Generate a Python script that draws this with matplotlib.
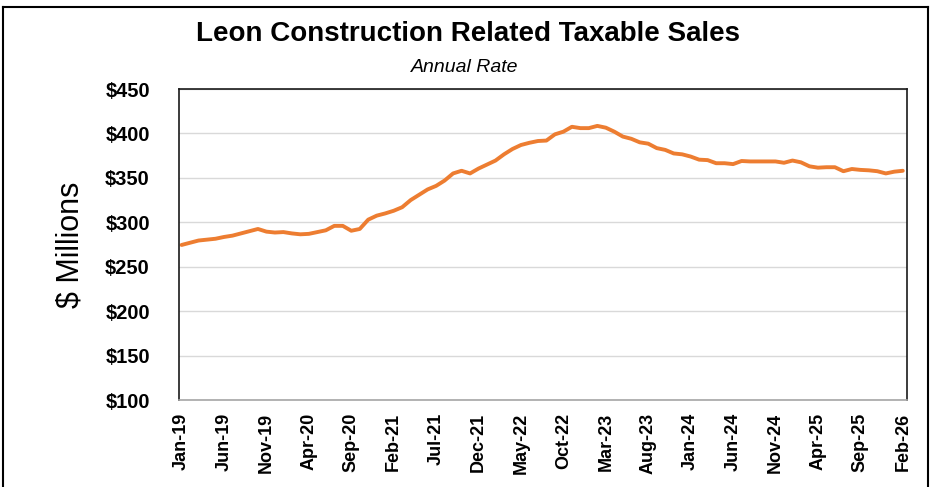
import matplotlib

matplotlib.use("Agg")
import matplotlib.pyplot as plt
import pandas as pd
from matplotlib.lines import Line2D

# Monthly annual-rate taxable sales, $ millions, Jan-2019 .. Feb-2026
months = pd.date_range("2019-01-01", "2026-02-01", freq="MS")
sales_musd = [
    274.5, 277.0, 279.5, 280.5, 281.5, 283.5, 285.0, 287.5, 290.0, 292.5,
    289.5, 288.5, 289.0, 287.5, 286.5, 287.0, 289.0, 291.0, 296.0, 296.0,
    290.5, 292.5, 303.0, 307.5, 310.0, 313.0, 317.0, 325.0, 331.0, 337.0,
    341.0, 347.0, 355.0, 358.0, 355.0, 360.5, 365.0, 369.5, 376.5, 382.5,
    387.0, 389.5, 391.5, 392.0, 399.0, 402.0, 407.5, 406.0, 406.0, 408.5,
    406.5, 402.0, 396.5, 394.0, 390.0, 388.5, 383.5, 381.5, 377.5, 376.5,
    374.0, 370.5, 370.0, 366.5, 366.5, 365.5, 369.0, 368.5, 368.5, 368.5,
    368.5, 367.0, 369.5, 367.5, 363.0, 361.5, 362.0, 362.0, 357.5, 360.0,
    359.0, 358.5, 357.5, 355.0, 357.0, 358.0,
]
tick_step = 5
y_ticks = [100, 150, 200, 250, 300, 350, 400, 450]

title = "Leon Construction Related Taxable Sales"
subtitle = "Annual Rate"
y_label = "$ Millions"

LINE_COLOR = "#ED7D31"
GRID_COLOR = "#D9D9D9"


def main() -> None:
    plt.rcParams["font.family"] = ["Liberation Sans", "DejaVu Sans"]

    fig = plt.figure(figsize=(9.3, 4.87), dpi=100)
    ax = fig.add_axes([0.1925, 0.1786, 0.7828, 0.6386])

    x = range(len(sales_musd))
    ax.plot(x, sales_musd, color=LINE_COLOR, linewidth=2.8, solid_capstyle="round")

    ax.set_xlim(-0.3, len(sales_musd) - 0.5)
    ax.set_ylim(y_ticks[0], y_ticks[-1])
    ax.set_yticks(y_ticks)
    ax.set_yticklabels([f"${v}" for v in y_ticks], fontsize=14.5, fontweight="bold")

    tick_pos = list(range(0, len(months), tick_step))
    ax.set_xticks(tick_pos)
    ax.set_xticklabels(
        [months[i].strftime("%b-%y") for i in tick_pos],
        rotation=90, fontsize=13, fontweight="bold",
    )
    ax.tick_params(axis="y", length=0, pad=21)
    ax.tick_params(axis="x", length=0, pad=9)

    ax.grid(axis="y", color=GRID_COLOR, linewidth=1.0)
    ax.set_axisbelow(True)
    for side in ("left", "top", "right"):
        ax.spines[side].set_color("#1a1a1a")
        ax.spines[side].set_linewidth(1.2)
    ax.spines["bottom"].set_color("#A6A6A6")
    ax.spines["bottom"].set_linewidth(1.2)

    ax.set_ylabel(y_label, fontsize=22, labelpad=14)

    fig.text(0.503, 0.930, title, ha="center", va="center",
             fontsize=20, fontweight="bold")
    fig.text(0.500, 0.862, subtitle, ha="center", va="center",
             fontsize=14, style="italic")

    # outer chart frame
    w, h = 930, 487
    frame = dict(color="black", linewidth=1.5, transform=fig.transFigure)
    fig.add_artist(Line2D([3 / w, 3 / w], [0, 1 - 7 / h], **frame))
    fig.add_artist(Line2D([3 / w, 928 / w], [1 - 7 / h, 1 - 7 / h], **frame))
    fig.add_artist(Line2D([928 / w, 928 / w], [0, 1 - 7 / h], **frame))

    fig.savefig("out.png", dpi=100)


if __name__ == "__main__":
    main()
